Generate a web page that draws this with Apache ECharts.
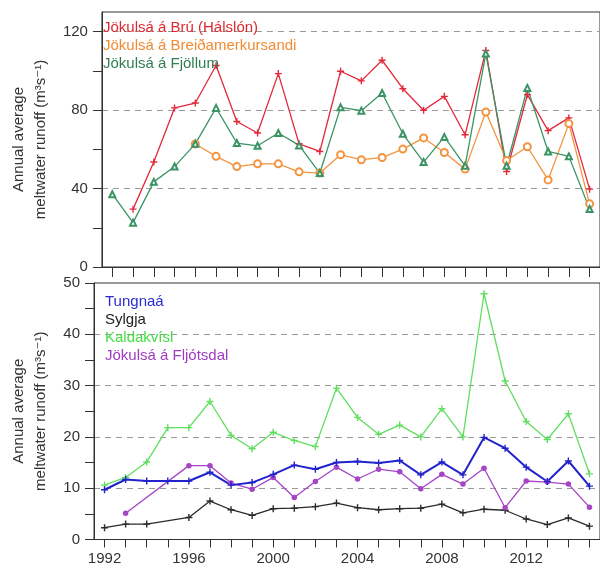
<!DOCTYPE html>
<html><head><meta charset="utf-8">
<script src="https://cdn.jsdelivr.net/npm/echarts@6/dist/echarts.min.js"></script>
<style>html,body{margin:0;padding:0;background:#fff}#c{width:600px;height:570px}</style>
</head><body><div id="c"></div>
<script>
const years = ['1992','1993','1994','1995','1996','1997','1998','1999','2000','2001','2002','2003','2004','2005','2006','2007','2008','2009','2010','2011','2012','2013','2014','2015'];
// top panel
const bru =       [null,29.5,53.5,81.1,83.6,102.7,74.2,68.3,98.6,62.8,58.9,99.8,94.9,105.4,90.9,79.9,87.0,67.4,110.4,48.7,87.9,69.5,76.0,39.7];
const breida =    [null,null,null,null,62.7,56.4,51.2,52.6,52.6,48.5,47.9,57.2,54.7,55.8,60.1,65.8,58.4,49.9,79.0,54.3,61.3,44.4,73.1,32.2];
const fjollum =   [37.1,22.6,43.4,51.2,62.8,81.1,63.2,61.8,68.3,62.0,47.9,81.4,79.7,88.7,67.9,53.5,66.3,51.6,108.8,51.6,91.3,58.9,56.4,29.6];
// bottom panel
const tungnaa =   [9.7,11.7,11.4,11.4,11.4,13.1,10.6,11.1,12.7,14.5,13.7,15.0,15.2,14.9,15.4,12.6,15.1,12.6,19.9,17.8,14.1,11.3,15.3,10.4];
const sylgja =    [2.3,3.0,3.0,null,4.3,7.5,5.8,4.7,6.0,6.1,6.4,7.1,6.2,5.8,6.0,6.1,6.9,5.2,5.9,5.7,4.0,2.9,4.2,2.6];
const kaldakvisl =[10.6,12.1,15.1,21.8,21.8,26.9,20.3,17.7,20.9,19.3,18.1,29.5,23.8,20.5,22.3,20.0,25.5,20.0,47.9,30.9,23.0,19.5,24.5,12.8];
const fljotsdal = [null,5.1,null,null,14.4,14.4,11.0,9.8,12.1,8.2,11.3,14.1,11.8,13.7,13.2,9.9,12.7,10.8,13.9,6.2,11.4,11.2,10.8,6.3];
const topLabels = [0,40,80,120];
const topTicks = [0,20,40,60,80,100,120];
const botLabels = [0,10,20,30,40,50];
const botTicks = [0,5,10,15,20,25,30,35,40,45,50];

const names = {
  bru:'Jökulsá á Brú (Hálslón)', breida:'Jökulsá á Breiðamerkursandi', fjollum:'Jökulsá á Fjöllum',
  tungnaa:'Tungnaá', sylgja:'Sylgja', kald:'Kaldakvísl', fljot:'Jökulsá á Fljótsdal'
};
const PLUS = 'path://M4,0H6V4H10V6H6V10H4V6H0V4H4Z';
const FONT = 'Liberation Sans, Arial, DejaVu Sans, sans-serif';
const AX = '#333';
const yTitle = 'Annual average\nmeltwater runoff (m³s⁻¹)';

function xAxisCfg(gi, showLabels, tickLen){
  return {
    type:'category', gridIndex:gi, data:years, boundaryGap:true,
    axisLine:{show:true, lineStyle:{color:AX, width:1}},
    axisTick:{show:true, interval:0, alignWithLabel:true, length:tickLen, lineStyle:{color:AX}},
    axisLabel:{show:showLabels, interval:3, margin:12, fontSize:15, color:'#333', fontFamily:FONT},
    splitLine:{show:false}
  };
}
function yAxisCfg(gi, max, ticks, labels){
  const colors = ticks.map(v => (labels.indexOf(v) >= 0 && v !== 0 && v !== max) ? '#9a9a9a' : 'rgba(0,0,0,0)');
  return {
    type:'value', gridIndex:gi, min:0, max:max,
    axisLine:{show:true, lineStyle:{color:AX}},
    axisTick:{show:true, length:9, customValues:ticks, lineStyle:{color:AX}},
    axisLabel:{customValues:labels, margin:14, fontSize:15, color:'#333', fontFamily:FONT},
    splitLine:{show:true, lineStyle:{type:[6,5], color:colors, width:1}},
    name:yTitle, nameLocation:'middle', nameRotate:90, nameGap:42,
    nameTextStyle:{fontSize:15, color:'#333', fontFamily:FONT, lineHeight:22, align:'center'}
  };
}
function line(name, data, color, gi, symbol, size, width){
  return {
    name:name, type:'line', xAxisIndex:gi, yAxisIndex:gi, data:data,
    connectNulls:true, symbol:symbol, symbolSize:size, showAllSymbol:true,
    lineStyle:{color:color, width:width}, itemStyle:{color:color, borderColor:color, borderWidth: symbol.indexOf('empty')===0?1.1:0},
    emphasis:{disabled:true}, animation:false
  };
}
const chart = echarts.init(document.getElementById('c'), null, {renderer:'canvas'});
chart.setOption({
  animation:false,
  grid:[
    {left:92, top:12, width:512, height:255, show:true, borderColor:AX, borderWidth:1, backgroundColor:'transparent'},
    {left:92, top:283, width:512, height:256.5, show:true, borderColor:AX, borderWidth:1, backgroundColor:'transparent'}
  ],
  xAxis:[xAxisCfg(0,false,10), xAxisCfg(1,true,8)],
  yAxis:[yAxisCfg(0,130,topTicks,topLabels), yAxisCfg(1,50,botTicks,botLabels)],
  legend:[
    {orient:'vertical', left:98, top:19, padding:0, itemGap:0, itemWidth:0, itemHeight:18, icon:'none', selectedMode:false,
     textStyle:{fontSize:15, fontFamily:FONT, lineHeight:18},
     data:[{name:names.bru, textStyle:{color:'#dc2a33'}},{name:names.breida, textStyle:{color:'#f08c35'}},{name:names.fjollum, textStyle:{color:'#2f7d50'}}]},
    {orient:'vertical', left:100, top:293, padding:0, itemGap:0, itemWidth:0, itemHeight:18, icon:'none', selectedMode:false,
     textStyle:{fontSize:15, fontFamily:FONT, lineHeight:18},
     data:[{name:names.tungnaa, textStyle:{color:'#2b2bd0'}},{name:names.sylgja, textStyle:{color:'#222'}},{name:names.kald, textStyle:{color:'#44dd44'}},{name:names.fljot, textStyle:{color:'#a03cc0'}}]}
  ],
  series:[
    line(names.bru, bru, '#e3283a', 0, PLUS, 7, 1.3),
    line(names.breida, breida, '#f39440', 0, 'emptyCircle', 7, 1.3),
    line(names.fjollum, fjollum, '#3b9464', 0, 'emptyTriangle', 6, 1.3),
    line(names.sylgja, sylgja, '#2a2a2a', 1, PLUS, 7, 1.3),
    line(names.fljot, fljotsdal, '#a544c4', 1, 'circle', 5.5, 1.3),
    line(names.kald, kaldakvisl, '#60de60', 1, PLUS, 7, 1.3),
    line(names.tungnaa, tungnaa, '#2323cc', 1, PLUS, 7, 2)
  ]
});
</script></body></html>
